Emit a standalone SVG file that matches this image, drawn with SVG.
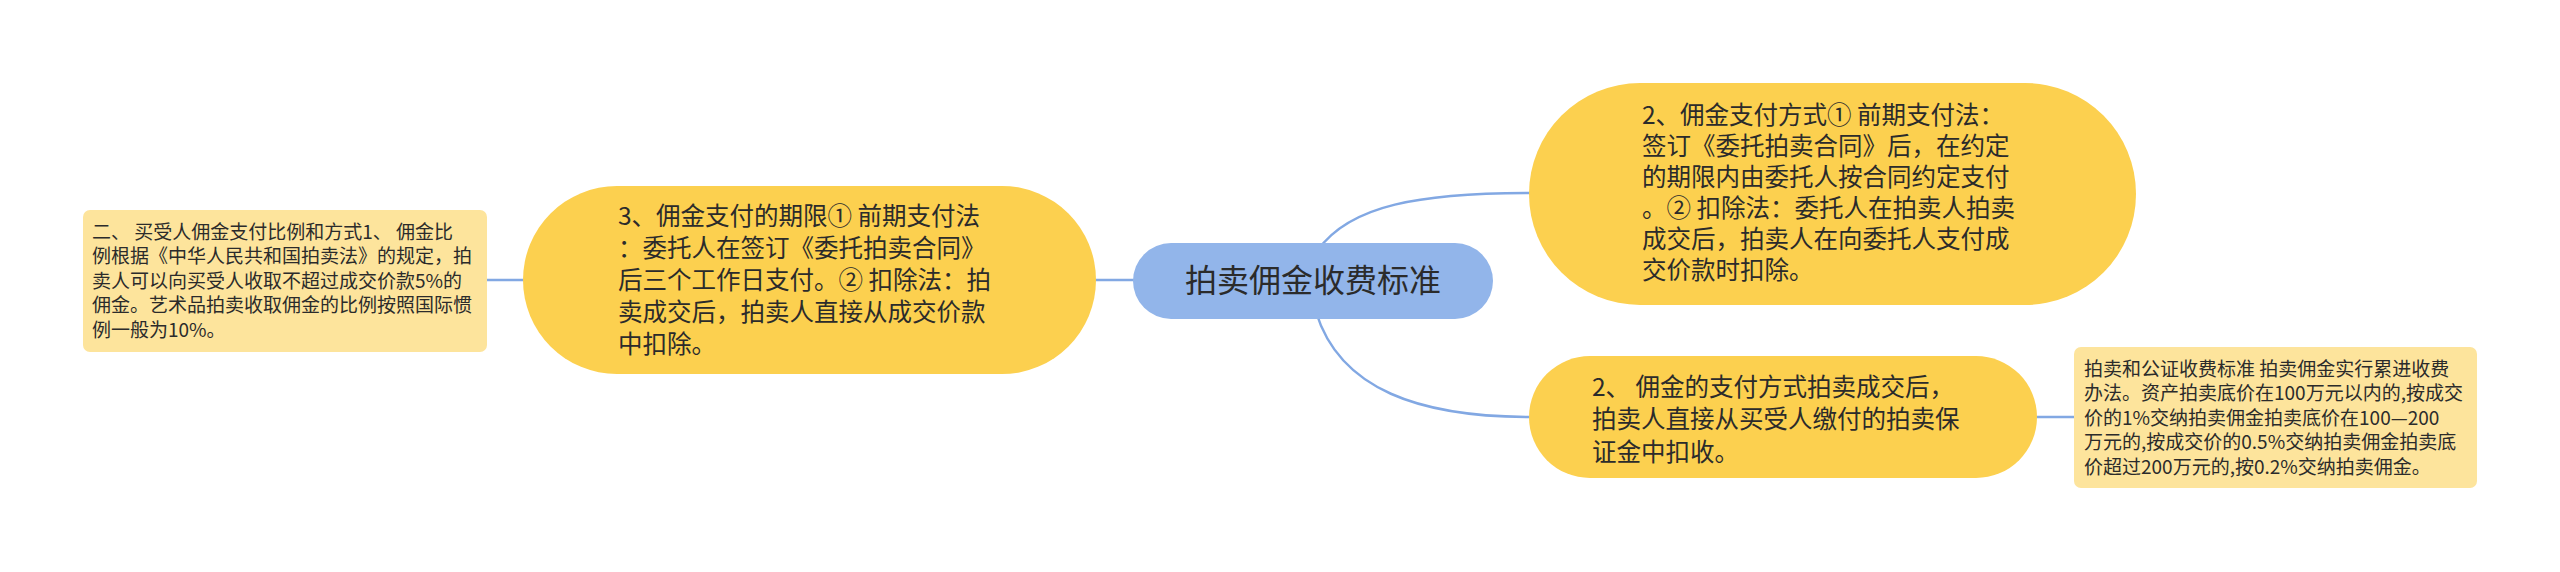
<svg xmlns="http://www.w3.org/2000/svg" width="2560" height="572" viewBox="0 0 2560 572">
<style>
text{font-family:"Noto Sans CJK SC","Liberation Sans",sans-serif;fill:#2b2b2b}
.pill{fill:#fcd04f}
.box{fill:#fde49c}
.center{fill:#92b5ea}
.big{font-size:24.5px}
.small{font-size:19px}
.conn path,.conn line{stroke:#82a8e3;stroke-width:2.5;fill:none}
</style>
<rect width="2560" height="572" fill="#ffffff"/>
<g class="conn" id="connectors">
<line x1="487" y1="280" x2="525" y2="280"/>
<line x1="1094" y1="280" x2="1135" y2="280"/>
<path d="M1318 250 C1350 205 1420 193 1531 193"/>
<path d="M1316 312 C1340 390 1420 417 1531 417"/>
<line x1="2035" y1="417" x2="2074" y2="417"/>
</g>
<g id="node-center">
<rect class="center" x="1133" y="243" width="360" height="76" rx="38"/>
<text x="1313" y="292" font-size="32" text-anchor="middle">拍卖佣金收费标准</text>
</g>
<g id="node-left-pill">
<rect class="pill" x="523" y="186" width="573" height="188" rx="94"/>
<text class="big" x="618" y="225"><tspan x="618">3、佣金支付的期限① 前期支付法</tspan><tspan x="618" dy="32">：委托人在签订《委托拍卖合同》</tspan><tspan x="618" dy="32">后三个工作日支付。② 扣除法：拍</tspan><tspan x="618" dy="32">卖成交后，拍卖人直接从成交价款</tspan><tspan x="618" dy="32">中扣除。</tspan></text>
</g>
<g id="node-left-box">
<rect class="box" x="83" y="210" width="404" height="142" rx="7"/>
<text class="small" x="92" y="238.5"><tspan x="92">二、 买受人佣金支付比例和方式1、 佣金比</tspan><tspan x="92" dy="24.6">例根据《中华人民共和国拍卖法》的规定，拍</tspan><tspan x="92" dy="24.6">卖人可以向买受人收取不超过成交价款5%的</tspan><tspan x="92" dy="24.6">佣金。艺术品拍卖收取佣金的比例按照国际惯</tspan><tspan x="92" dy="24.6">例一般为10%。</tspan></text>
</g>
<g id="node-top-right">
<rect class="pill" x="1529" y="83" width="607" height="222" rx="111"/>
<text class="big" x="1642" y="124"><tspan x="1642">2、佣金支付方式① 前期支付法：</tspan><tspan x="1642" dy="31">签订《委托拍卖合同》后，在约定</tspan><tspan x="1642" dy="31">的期限内由委托人按合同约定支付</tspan><tspan x="1642" dy="31">。② 扣除法：委托人在拍卖人拍卖</tspan><tspan x="1642" dy="31">成交后，拍卖人在向委托人支付成</tspan><tspan x="1642" dy="31">交价款时扣除。</tspan></text>
</g>
<g id="node-bottom-right">
<rect class="pill" x="1529" y="356" width="508" height="122" rx="61"/>
<text class="big" x="1592" y="395.5"><tspan x="1592">2、 佣金的支付方式拍卖成交后，</tspan><tspan x="1592" dy="32.5">拍卖人直接从买受人缴付的拍卖保</tspan><tspan x="1592" dy="32.5">证金中扣收。</tspan></text>
</g>
<g id="node-right-box">
<rect class="box" x="2074" y="347" width="403" height="141" rx="7"/>
<text class="small" x="2084" y="375.5"><tspan x="2084">拍卖和公证收费标准 拍卖佣金实行累进收费</tspan><tspan x="2084" dy="24.5">办法。资产拍卖底价在100万元以内的,按成交</tspan><tspan x="2084" dy="24.5">价的1%交纳拍卖佣金拍卖底价在100—200</tspan><tspan x="2084" dy="24.5">万元的,按成交价的0.5%交纳拍卖佣金拍卖底</tspan><tspan x="2084" dy="24.5">价超过200万元的,按0.2%交纳拍卖佣金。</tspan></text>
</g>
</svg>
